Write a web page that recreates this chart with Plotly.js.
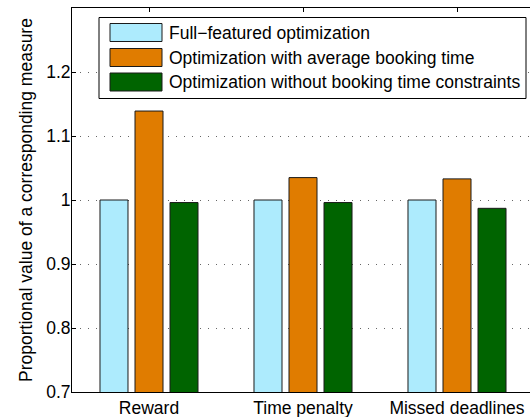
<!DOCTYPE html>
<html>
<head>
<meta charset="utf-8">
<script src="https://cdn.plot.ly/plotly-3.0.1.min.js"></script>
<style>html,body{margin:0;padding:0;background:#fff;}#chart{width:530px;height:417px;}</style>
</head>
<body>
<div id="chart"></div>
<script>
var categories = ['Reward', 'Time penalty', 'Missed deadlines'];
var seriesNames = ['Full\u2212featured optimization', 'Optimization with average booking time', 'Optimization without booking time constraints'];
var fullFeatured = [1.0, 1.0, 1.0];
var avgBooking = [1.139, 1.035, 1.033];
var noConstraints = [0.996, 0.996, 0.987];
var yTickVals = [0.7, 0.8, 0.9, 1.0, 1.1, 1.2];
var yTickText = ['0.7', '0.8', '0.9', '1', '1.1', '1.2'];
var colors = ['#ADEBFD', '#E07C00', '#006400'];

var W = 530, H = 417;
var M = {l: 72, r: 0, t: 8, b: 25};
var FONT = 'Liberation Sans, Arial, Helvetica, sans-serif';
var FS = 17.5;
function px(x) { return (x - M.l) / (W - M.l - M.r); }
function py(y) { return (H - M.b - y) / (H - M.t - M.b); }

var values = [fullFeatured, avgBooking, noConstraints];
var traces = values.map(function (v, i) {
  return {
    type: 'bar', x: categories, y: v, name: seriesNames[i],
    marker: {color: colors[i], line: {color: '#1a1a1a', width: 1}},
    showlegend: false, hoverinfo: 'skip'
  };
});

// legend drawn as shapes + annotations (MATLAB style large swatches)
var shapes = [{
  type: 'rect', xref: 'paper', yref: 'paper',
  x0: px(99), x1: px(526), y0: py(17.5), y1: py(98.5),
  line: {color: '#000', width: 1}, fillcolor: '#fff', layer: 'above'
}];
var annotations = [];
var rowCenters = [32.5, 57.5, 82];
seriesNames.forEach(function (n, i) {
  var c = rowCenters[i];
  shapes.push({
    type: 'rect', xref: 'paper', yref: 'paper',
    x0: px(110), x1: px(162), y0: py(c - 9), y1: py(c + 9),
    line: {color: '#1a1a1a', width: 1}, fillcolor: colors[i], layer: 'above'
  });
  annotations.push({
    xref: 'paper', yref: 'paper', x: px(167), y: py(c),
    xanchor: 'left', yanchor: 'middle', showarrow: false,
    text: n, font: {family: FONT, size: FS, color: '#000'}
  });
});

var layout = {
  width: W, height: H,
  margin: M,
  paper_bgcolor: '#fff', plot_bgcolor: '#fff',
  font: {family: FONT, size: FS, color: '#000'},
  barmode: 'group', bargap: 0.318, bargroupgap: 0.2,
  showlegend: false,
  xaxis: {
    type: 'category', range: [-0.5, 2.474],
    showline: true, linecolor: '#000', linewidth: 1, mirror: 'ticks',
    ticks: 'inside', ticklen: 4, tickcolor: '#000',
    showgrid: false, zeroline: false, layer: 'below traces',
    tickfont: {family: FONT, size: FS, color: '#000'}
  },
  yaxis: {
    range: [0.7, 1.3], tickvals: yTickVals, ticktext: yTickText,
    showline: true, linecolor: '#000', linewidth: 1, mirror: false,
    ticks: 'inside', ticklen: 4, tickcolor: '#000',
    showgrid: true, gridcolor: '#666', gridwidth: 1, griddash: '1px,7px',
    zeroline: false, ticklabelstandoff: -3,
    tickfont: {family: FONT, size: FS, color: '#000'},
    title: {text: 'Proportional value of a corresponding measure', font: {family: FONT, size: FS, color: '#000'}, standoff: 9}
  },
  shapes: shapes,
  annotations: annotations
};

Plotly.newPlot('chart', traces, layout, {displayModeBar: false, staticPlot: true});
</script>
</body>
</html>
